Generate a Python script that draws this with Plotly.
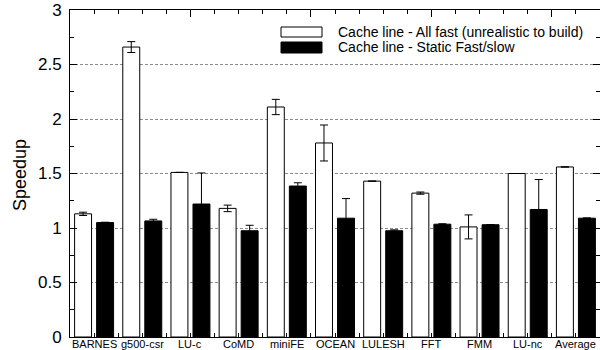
import plotly.graph_objects as go

categories = ["BARNES", "g500-csr", "LU-c", "CoMD", "miniFE", "OCEAN",
              "LULESH", "FFT", "FMM", "LU-nc", "Average"]
all_fast = [1.13, 2.66, 1.51, 1.18, 2.11, 1.78, 1.43, 1.32, 1.01, 1.50, 1.56]
all_fast_err = [0.015, 0.05, 0.0, 0.03, 0.07, 0.165, 0.0, 0.01, 0.11, 0.0, 0.0]
static_fs = [1.05, 1.065, 1.22, 0.975, 1.385, 1.09, 0.975, 1.035, 1.03, 1.17, 1.09]
static_fs_err = [0.003, 0.015, 0.285, 0.05, 0.03, 0.18, 0.008, 0.004, 0.0, 0.275, 0.003]
series_names = ["Cache line - All fast (unrealistic to build)",
                "Cache line - Static Fast/slow"]
y_tick_vals = [0, 0.5, 1, 1.5, 2, 2.5, 3]
y_tick_text = ["0", "0.5", "1", "1.5", "2", "2.5", "3"]

x = list(range(len(categories)))
FONT = "Liberation Sans, Arial, Helvetica, sans-serif"

fig = go.Figure()
fig.add_trace(go.Bar(
    x=x, y=all_fast, name=series_names[0],
    marker=dict(color="white", line=dict(color="black", width=1)),
    error_y=dict(type="data", array=all_fast_err, visible=True,
                 color="black", thickness=1, width=4),
    showlegend=False,
))
fig.add_trace(go.Bar(
    x=x, y=static_fs, name=series_names[1],
    marker=dict(color="black", line=dict(color="black", width=1)),
    error_y=dict(type="data", array=static_fs_err, visible=True,
                 color="black", thickness=1, width=4),
    showlegend=False,
))
# invisible trace to anchor top axis
fig.add_trace(go.Scatter(x=[x[0]], y=[0], xaxis="x2", mode="markers",
                         marker=dict(opacity=0), showlegend=False,
                         hoverinfo="skip"))

L, R, T, B = 70, 0, 10, 13
W, H = 600, 350
pw, ph = W - L - R, H - T - B

def px(xp):
    return (xp - L) / pw

def py(yp):
    return (H - B - yp) / ph

fig.update_layout(
    width=W, height=H,
    margin=dict(l=L, r=R, t=T, b=B, pad=0),
    paper_bgcolor="white", plot_bgcolor="white",
    barmode="group", bargap=0.086, bargroupgap=0.23,
    font=dict(family=FONT, color="black"),
    xaxis=dict(
        range=[-0.5, 10.5], tickvals=x, showticklabels=False,
        ticks="inside", ticklen=4,
        tickcolor="black", showline=True, linecolor="black", linewidth=1,
        showgrid=False, zeroline=False, automargin=False,
        minor=dict(ticks="inside", ticklen=4, dtick=0.5, tick0=0,
                   tickcolor="black"),
    ),
    xaxis2=dict(
        range=[-0.5, 10.5], overlaying="x", side="top",
        tickvals=[2, 4.5, 7, 9.5], showticklabels=False,
        ticks="inside", ticklen=7, tickcolor="black",
        showline=True, linecolor="black", linewidth=1,
        showgrid=False, zeroline=False, automargin=False,
        minor=dict(ticks="inside", ticklen=4, dtick=0.5, tick0=0,
                   tickcolor="black"),
    ),
    yaxis=dict(
        range=[0, 3], tickvals=y_tick_vals, ticktext=y_tick_text,
        tickfont=dict(size=17), ticks="inside", ticklen=7,
        tickcolor="black", showline=True, linecolor="black", linewidth=1,
        mirror="ticks", showgrid=True, gridcolor="#8c8c8c",
        griddash="3px,2px", gridwidth=1, zeroline=False, automargin=False,
        ticklabelstandoff=4,
        minor=dict(ticks="inside", ticklen=4, dtick=0.25, tick0=0,
                   tickcolor="black", showgrid=False),
    ),
)

# category labels under the axis
for xi, cat in zip(x, categories):
    fig.add_annotation(text=cat, xref="x", yref="paper", x=xi, y=py(343.5),
                       showarrow=False, xanchor="center", yanchor="middle",
                       font=dict(size=11, family=FONT, color="black"))

# y axis title
fig.add_annotation(text="Speedup", xref="paper", yref="paper",
                   x=px(20), y=py(175), textangle=-90, showarrow=False,
                   xanchor="center", yanchor="middle",
                   font=dict(size=18, family=FONT, color="black"))

# legend (drawn manually, gnuplot style)
legend_rows = [
    (series_names[0], "white", 27, 37, 32),
    (series_names[1], "black", 42, 53, 47.5),
]
for name, fill, y0, y1, yc in legend_rows:
    fig.add_shape(type="rect", xref="paper", yref="paper",
                  x0=px(281), x1=px(322), y0=py(y1), y1=py(y0),
                  fillcolor=fill, line=dict(color="black", width=1))
    fig.add_annotation(text=name, xref="paper", yref="paper",
                       x=px(336), y=py(yc), showarrow=False,
                       xanchor="left", yanchor="middle",
                       font=dict(size=14, family=FONT, color="black"))

fig.write_html("out.html",
               config={"displayModeBar": False},
               post_script="document.body.style.margin='0';"
                           "document.body.style.overflow='hidden';")
